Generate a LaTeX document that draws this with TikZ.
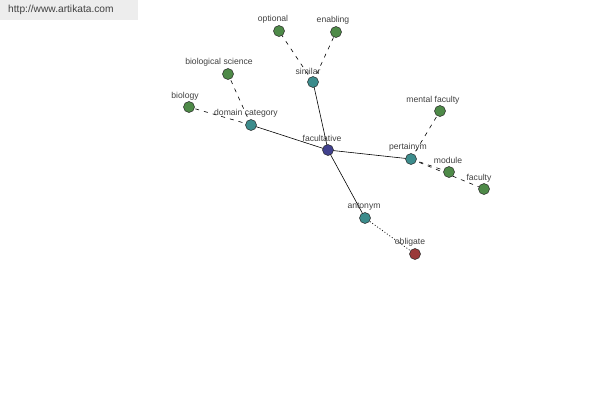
\documentclass[tikz,border=0pt]{standalone}
\usepackage{fontspec}
\setmainfont{Liberation Sans}
\definecolor{gcol}{HTML}{4E8A48}
\definecolor{tcol}{HTML}{3C8C8C}
\definecolor{bcol}{HTML}{41418E}
\definecolor{rcol}{HTML}{9A3A3A}
\begin{document}
\begin{tikzpicture}[x=1pt,y=-1pt,
  dot/.style={circle,draw=black!85,line width=0.5pt,minimum size=11pt,inner sep=0pt},
  gn/.style={dot,fill=gcol},
  tn/.style={dot,fill=tcol},
  bn/.style={dot,fill=bcol},
  rn/.style={dot,fill=rcol},
  lab/.style={font=\fontsize{8.6}{9}\selectfont,text=black!75,inner sep=0pt},
  sol/.style={line width=0.6pt},
  dsh/.style={line width=0.6pt,dash pattern=on 4pt off 5pt},
  dts/.style={line width=0.7pt,dash pattern=on 1pt off 2pt}]
\useasboundingbox (0,0) rectangle (600,400);
\fill[black!7] (0,0) rectangle (138,20);
\node[font=\fontsize{10.2}{11}\selectfont,text=black!75,anchor=west,inner sep=0pt] (url) at (8,10) {http://www.artikata.com};
% nodes
\coordinate (cfac) at (328,150);
\coordinate (csim) at (313,82);
\coordinate (copt) at (279,31);
\coordinate (cena) at (336,32);
\coordinate (cbsc) at (228,74);
\coordinate (cbio) at (189,107);
\coordinate (cdom) at (251,125);
\coordinate (cmen) at (440,111);
\coordinate (cper) at (411,159);
\coordinate (cmod) at (449,172);
\coordinate (cfcy) at (484,189);
\coordinate (cant) at (365,218);
\coordinate (cobl) at (415,254);
% edges
\draw[sol] (cfac) -- (csim);
\draw[sol] (cfac) -- (cdom);
\draw[sol] (cfac) -- (cper);
\draw[sol] (cfac) -- (cant);
\draw[dsh] (csim) -- (copt);
\draw[dsh] (csim) -- (cena);
\draw[dsh] (cdom) -- (cbsc);
\draw[dsh] (cdom) -- (cbio);
\draw[dsh] (cper) -- (cmen);
\draw[dsh] (cper) -- (cmod);
\draw[dsh] (cper) -- (cfcy);
\draw[dts] (cant) -- (cobl);
% dots
\node[bn] (fac) at (cfac) {};
\node[tn] (sim) at (csim) {};
\node[gn] (opt) at (copt) {};
\node[gn] (ena) at (cena) {};
\node[gn] (bsc) at (cbsc) {};
\node[gn] (bio) at (cbio) {};
\node[tn] (dom) at (cdom) {};
\node[gn] (men) at (cmen) {};
\node[tn] (per) at (cper) {};
\node[gn] (mod) at (cmod) {};
\node[gn] (fcy) at (cfcy) {};
\node[tn] (ant) at (cant) {};
\node[rn] (obl) at (cobl) {};
% labels
\node[lab] (lfac) at (322,138) {facultative};
\node[lab] (lsim) at (308,71) {similar};
\node[lab] (lopt) at (273,19) {optional};
\node[lab] (lena) at (333,20) {enabling};
\node[lab] (lbsc) at (219,62) {biological science};
\node[lab] (lbio) at (185,96) {biology};
\node[lab] (ldom) at (246,113) {domain category};
\node[lab] (lmen) at (433,100) {mental faculty};
\node[lab] (lper) at (408,147) {pertainym};
\node[lab] (lmod) at (448,160) {module};
\node[lab] (lfcy) at (479,178) {faculty};
\node[lab] (lant) at (364,207) {antonym};
\node[lab] (lobl) at (410,242) {obligate};
\end{tikzpicture}
\end{document}
